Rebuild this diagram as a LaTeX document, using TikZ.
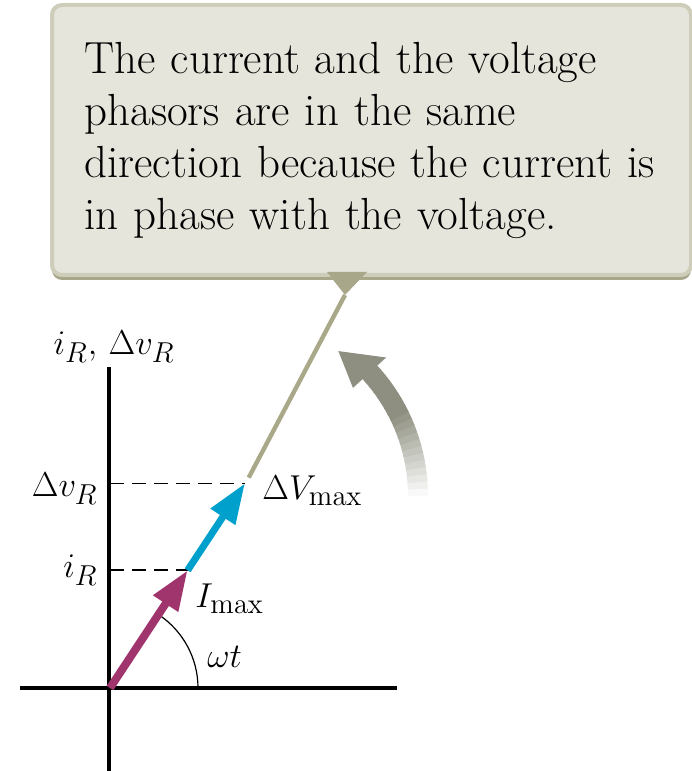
\documentclass[tikz,border=0pt]{standalone}
\usepackage{amsmath,amssymb}
\usepackage{xcolor}
\usetikzlibrary{arrows.meta,positioning,calc,shadows}
\definecolor{phasorred}{RGB}{160,53,110}
\definecolor{phasorblue}{RGB}{0,160,204}
\definecolor{leaderolive}{RGB}{169,168,137}
\definecolor{notefill}{RGB}{230,229,219}
\definecolor{noteedge}{RGB}{206,205,186}
\definecolor{noteshade}{RGB}{168,167,138}
\definecolor{turngray}{RGB}{142,143,128}
\DeclareMathSizes{17}{17}{13.5}{10}

\begin{document}
\begin{tikzpicture}[x=0.5pt, y=0.5pt,
    axis/.style={line width=2pt},
    guide/.style={line width=0.9pt, dash pattern=on 7pt off 4pt},
    phasor/.style={line width=#1, -{Triangle[length=20pt,width=14pt]}},
    lbl/.style={font=\fontsize{17}{20}\selectfont, inner sep=0pt},
    callout/.style={fill=notefill, draw=noteedge, line width=2pt, rounded corners=5pt,
        minimum width=319.5pt, minimum height=135pt, inner xsep=16.25pt,
        text width=287pt, align=left, font=\fontsize{22.5}{26}\selectfont,
        drop shadow={shadow xshift=0pt, shadow yshift=-2.5pt, fill=noteshade, opacity=1}}
]
    \useasboundingbox (0,0) rectangle (691,771);

    % Callout
    \node[callout] (note) at (371.5,631) {The current and the voltage\\
        phasors are in the same\\
        direction because the current is\\
        in phase with the voltage.};
    \coordinate (tip) at (345,476);
    \fill[noteshade] (tip) -- (327,499) -- (367,499) -- cycle;

    % Axes
    \coordinate (O) at (110,83);
    \coordinate (ybot) at (109,0);
    \coordinate (ytop) at (109,404);
    \coordinate (xleft) at (20,83);
    \coordinate (xright) at (397,83);
    \draw[axis] (ybot) -- (ytop);
    \draw[axis] (xleft) -- (xright);

    % Phasor tips
    \coordinate (Itip) at ($(O)+(56.6:141)$);
    \coordinate (Vtip) at ($(O)+(56.6:245)$);
    \coordinate (lead) at ($(O)+(56.6:252)$);

    % Leader line
    \draw[leaderolive, line width=2.2pt] (tip) -- (lead);

    % Projections
    \draw[guide] (O |- Vtip) -- (Vtip);
    \draw[guide] (O |- Itip) -- (Itip);

    % Angle
    \draw[line width=0.6pt] ($(O)+(88,0)$) arc (0:56.6:88);

    % Phasors
    \draw[phasor=3.5pt, phasorblue] (Itip) -- (Vtip);
    \draw[phasor=4pt, phasorred] (O) -- (Itip);

    % Rotation arrow
    \coordinate (ctr) at (235,275);
    \foreach \i [evaluate=\i as \p using {min(100,5+\i*8)},
                 evaluate=\i as \a using {\i*2.15}] in {0,...,19}
        \draw[line width=10pt, turngray!\p!white] ($(ctr)+(\a:183)$) arc (\a:\a+2.5:183);
    \fill[turngray] ($(ctr)+(42.5:160)$) -- ($(ctr)+(54.5:178)$) -- ($(ctr)+(42.5:205)$) -- cycle;

    % Labels
    \node[lbl, anchor=base] (axlbl) at (114,416) {$i_R,\,\Delta v_R$};
    \node[lbl, anchor=base east] (vlbl) at (98,274) {$\Delta v_R$};
    \node[lbl, anchor=base east] (ilbl) at (98,193) {$i_R$};
    \node[lbl, anchor=base west] (Vmax) at (262,271) {$\Delta V_{\mathrm{max}}$};
    \node[lbl, anchor=base west] (Imax) at (195,163) {$I_{\mathrm{max}}$};
    \node[lbl, anchor=base west] (wt) at (207,103) {$\omega t$};
\end{tikzpicture}
\end{document}
